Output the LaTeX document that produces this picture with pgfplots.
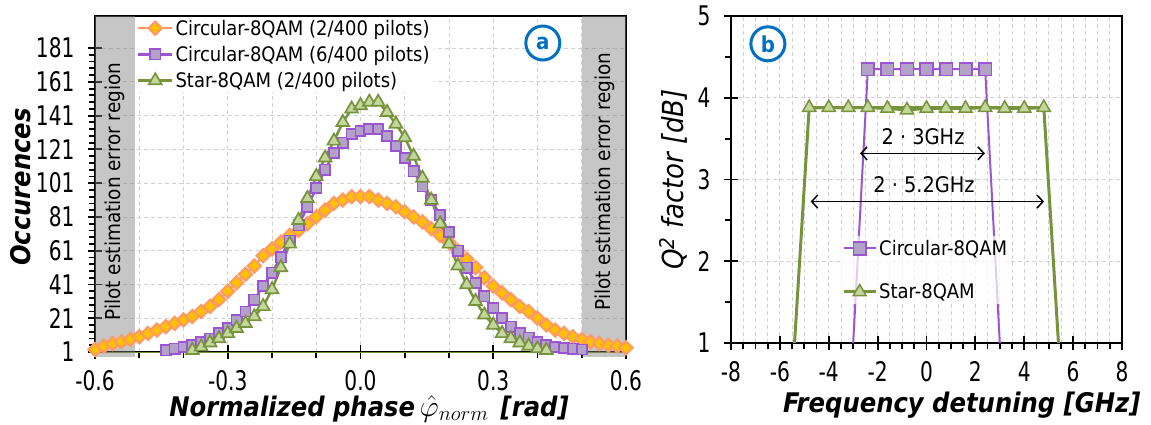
\documentclass[border=0pt]{standalone}
\usepackage{fontspec}
\setmainfont{DejaVu Sans Condensed}
\newfontfamily\tickfont[FakeStretch=0.83]{DejaVu Sans Condensed}
\usepackage{graphicx}
\usepackage{pgfplots}
\pgfplotsset{compat=1.18}
\usetikzlibrary{arrows.meta}
\definecolor{orF}{HTML}{FFC000}
\definecolor{orD}{HTML}{FF9966}
\definecolor{puF}{HTML}{B3A2C7}
\definecolor{puD}{HTML}{9B55D2}
\definecolor{grF}{HTML}{C3D69B}
\definecolor{grD}{HTML}{77933C}
\definecolor{blueC}{HTML}{0070C0}
\pgfplotsset{
 myaxis/.style={
   scale only axis,
   anchor=south west,
   axis line style={line width=1.8pt, black},
   tick style={line width=1.8pt, black},
   major tick length=14pt,
   minor tick length=6pt,
   tick align=center,
   tick pos=left,
   minor x tick style={yshift=-3pt},
   minor y tick style={xshift=-3pt},
   tick label style={font=\tickfont\fontsize{27}{29}\selectfont},
   xticklabel style={yshift=-8pt},
   yticklabel style={xshift=-10pt},
   /pgf/number format/assume math mode=true,
   grid style={dash pattern=on 4pt off 3pt, gray!35, line width=0.8pt},
   label style={font=\fontsize{27}{30}\selectfont\bfseries\itshape},
   clip=false,
 }
}
\begin{document}
\begin{tikzpicture}
\path[use as bounding box] (0pt,0pt) rectangle (1151pt,424pt);

% ---------------- panel a ----------------
\begin{axis}[myaxis, at={(95pt,72pt)}, width=531pt, height=336pt,
 xmin=-0.6, xmax=0.6, ymin=1, ymax=200,
 xtick={-0.6,-0.3,0,0.3,0.6}, minor x tick num=2,
 ytick={1,21,...,181}, minor y tick num=4,
 xmajorgrids, xminorgrids, ymajorgrids,
 xticklabel style={/pgf/number format/fixed, /pgf/number format/fixed zerofill, /pgf/number format/precision=1},
 xlabel={Normalized phase\,\scalebox{1.2}{\mdseries\upshape$\hat{\varphi}_{norm}$}\;\,[rad]},
 xlabel style={at={(axis description cs:0.516,0)}, anchor=center, yshift=-57pt},
 ylabel={Occurences},
 ylabel style={at={(axis description cs:-0.1394,0.491)}, anchor=center},
 legend style={at={(axis cs:-0.51,199.6)}, anchor=north west, draw=none, fill=white,
   inner xsep=2pt, inner ysep=1pt, font=\fontsize{20}{22}\selectfont, row sep=5.5pt},
 legend cell align=left,
 legend image code/.code={\draw[mark repeat=2,mark phase=2] plot coordinates {(0pt,0pt) (17pt,0pt) (34pt,0pt)};},
]
\addplot[orD, line width=2.5pt, mark=square*, mark size=4.7pt,
  mark options={rotate=45, fill=orF, draw=orD, line width=2pt}] table {
-0.60 2.5
-0.58 4.5
-0.56 6
-0.54 7
-0.52 8.5
-0.50 10
-0.48 12
-0.46 14
-0.44 16
-0.42 18
-0.40 20
-0.38 22
-0.36 25
-0.34 28
-0.32 32
-0.30 37
-0.28 42
-0.26 47
-0.24 52
-0.22 58
-0.20 62
-0.18 66
-0.16 70
-0.14 73
-0.12 77
-0.10 81
-0.08 85
-0.06 89
-0.04 91
-0.02 93
0.00 93
0.02 93
0.04 91
0.06 89
0.08 87
0.10 84
0.12 81
0.14 78
0.16 74
0.18 70
0.20 66
0.22 61
0.24 56
0.26 51
0.28 45
0.30 40
0.32 36
0.34 32
0.36 28
0.38 25
0.40 21
0.42 17
0.44 14
0.46 12
0.48 10
0.50 8.5
0.52 7
0.54 6
0.56 5
0.58 4.5
0.60 3.5
};
\addlegendentry{Circular-8QAM (2/400 pilots)}
\addplot[puD, line width=2.5pt, mark=square*, mark size=5.1pt,
  mark options={fill=puF, draw=puD, line width=1.7pt}] table {
-0.44 2
-0.42 3
-0.40 4
-0.38 5
-0.36 7
-0.34 9
-0.32 12
-0.30 15
-0.28 20
-0.26 25
-0.24 32
-0.22 40
-0.20 48
-0.18 57
-0.16 67
-0.14 76
-0.12 87
-0.10 98
-0.08 109
-0.06 119
-0.04 125
-0.02 130
0.00 132
0.02 133
0.04 133
0.06 129
0.08 123
0.10 116
0.12 108
0.14 99
0.16 91
0.18 82
0.20 72
0.22 61
0.24 51
0.26 42
0.28 34
0.30 27
0.32 21
0.34 16
0.36 12
0.38 9.5
0.40 7
0.42 5
0.44 4
0.46 3.5
0.48 3
0.50 2.5
};
\addlegendentry{Circular-8QAM (6/400 pilots)}
\addplot[grD, line width=1pt, forget plot] coordinates {(-0.6,1) (0.6,1)};
\addplot[grD, line width=2.5pt, mark=triangle*, mark size=7.4pt,
  mark options={fill=grF, draw=grD, line width=1.7pt}] table {
-0.38 2
-0.36 4
-0.34 6.5
-0.32 9
-0.30 12
-0.28 15
-0.26 18
-0.24 22
-0.22 28
-0.20 38
-0.18 51
-0.16 65
-0.14 79
-0.12 92
-0.10 105
-0.08 116
-0.06 126
-0.04 137
-0.02 145
0.00 147
0.02 149
0.04 149
0.06 143
0.08 136
0.10 128
0.12 117
0.14 104
0.16 91
0.18 77
0.20 65
0.22 52
0.24 41
0.26 31
0.28 23
0.30 17
0.32 12
0.34 9
0.36 6.5
0.38 4.5
0.40 3
0.42 2
};
\addlegendentry{Star-8QAM (2/400 pilots)}
\fill[gray, fill opacity=0.45] (axis cs:-0.6,-2) rectangle (axis cs:-0.51,200);
\fill[gray, fill opacity=0.45] (axis cs:0.5,-2) rectangle (axis cs:0.6,200);
\node[rotate=90, font=\fontsize{20.5}{22}\selectfont] at (axis cs:-0.556,96) {Pilot estimation error region};
\node[rotate=90, font=\fontsize{20.5}{22}\selectfont] at (axis cs:0.553,102) {Pilot estimation error region};
\node[circle, draw=blueC, line width=3pt, fill=white, minimum size=34pt, inner sep=0pt,
  text=blueC, font=\fontsize{22}{24}\selectfont\bfseries] at (axis cs:0.412,184) {a};
\end{axis}

% ---------------- panel b ----------------
\begin{axis}[myaxis, at={(731pt,81pt)}, width=391pt, height=327pt,
 xmin=-8, xmax=8, ymin=1, ymax=5,
 xtick={-8,-6,...,8}, minor x tick num=3,
 ytick={1,2,3,4,5}, minor y tick num=1,
 xmajorgrids, xminorgrids, ymajorgrids,
 xlabel={Frequency detuning [GHz]},
 xlabel style={at={(axis description cs:0.59,0)}, anchor=center, yshift=-62pt},
 ylabel={Q\textsuperscript{2} factor [dB]},
 ylabel style={at={(axis description cs:-0.148,0.50)}, anchor=center, font=\fontsize{29}{31}\selectfont\mdseries\itshape},
 legend style={at={(axis cs:-3.54,2.31)}, anchor=north west, draw=none, fill=white, fill opacity=0.7, text opacity=1,
   inner xsep=2pt, inner ysep=2pt, font=\fontsize{20}{22}\selectfont, row sep=23pt},
 legend cell align=left,
 legend image code/.code={\draw[opacity=1, mark repeat=2,mark phase=2] plot coordinates {(0pt,0pt) (16pt,0pt) (32pt,0pt)};},
]
\addplot[puD, line width=2pt, forget plot] coordinates {(-3,1) (-2.4,4.35) (2.4,4.35) (3,1)};
\addplot[puD, line width=2pt, mark=square*, mark size=6.3pt,
  mark options={fill=puF, draw=puD, line width=1.5pt}] coordinates {
(-2.4,4.35) (-1.6,4.35) (-0.8,4.35) (0,4.35) (0.8,4.35) (1.6,4.35) (2.4,4.35)};
\addlegendentry{Circular-8QAM}
\addplot[grD, line width=3pt, forget plot] coordinates {(-5.4,1) (-4.8,3.88) (4.8,3.88) (5.4,1)};
\addplot[grD, line width=3pt, mark=triangle*, mark size=7.5pt,
  mark options={fill=grF, draw=grD, line width=1.5pt}] coordinates {
(-4.8,3.88) (-4.0,3.88) (-3.2,3.88) (-2.4,3.88) (-1.6,3.87) (-0.8,3.85) (0,3.87)
(0.8,3.87) (1.6,3.87) (2.4,3.88) (3.2,3.87) (4.0,3.87) (4.8,3.88)};
\addlegendentry{Star-8QAM}
\draw[line width=1.5pt, {Straight Barb[length=6pt,width=13pt]}-{Straight Barb[length=6pt,width=13pt]}]
  (axis cs:-2.72,3.32) -- (axis cs:2.39,3.32);
\draw[line width=1.5pt, {Straight Barb[length=6pt,width=13pt]}-{Straight Barb[length=6pt,width=13pt]}]
  (axis cs:-4.74,2.73) -- (axis cs:4.81,2.73);
\node[font=\fontsize{21.5}{23}\selectfont] at (axis cs:-0.14,3.53) {2 · 3GHz};
\node[font=\fontsize{21.5}{23}\selectfont] at (axis cs:-0.10,2.94) {2 · 5.2GHz};
\node[circle, draw=blueC, line width=3pt, fill=white, minimum size=34pt, inner sep=0pt,
  text=blueC, font=\fontsize{22}{24}\selectfont\bfseries] at (axis cs:-6.49,4.66) {b};
\end{axis}
\end{tikzpicture}
\end{document}
